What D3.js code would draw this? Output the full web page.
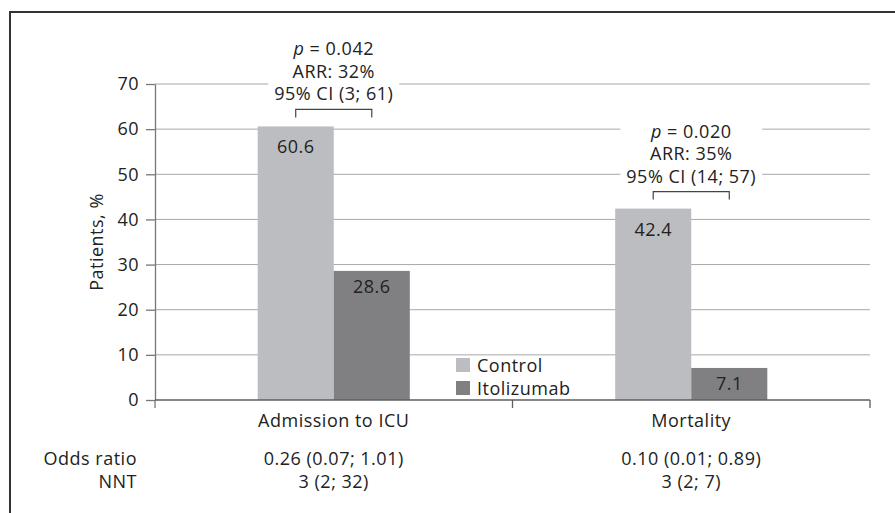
<!DOCTYPE html>
<html>
<head>
<meta charset="utf-8">
<script src="https://cdn.jsdelivr.net/npm/d3@7"></script>
<style>
  body { margin: 0; background: #fff; }
  svg text { font-family: 'Open Sans', sans-serif; fill: #222; letter-spacing: 0.5px; }
</style>
</head>
<body>
<div id="chart"></div>
<script>
// data
const categories = ['Admission to ICU', 'Mortality']
const series = ['Control', 'Itolizumab']
const controlValues = [60.6, 42.4]
const itolizumabValues = [28.6, 7.1]
const pValues = ['0.042', '0.020']
const arrValues = ['32%', '35%']
const ciValues = ['(3; 61)', '(14; 57)']
const oddsRatios = ['0.26 (0.07; 1.01)', '0.10 (0.01; 0.89)']
const nntValues = ['3 (2; 32)', '3 (2; 7)']
const yTicks = [0, 10, 20, 30, 40, 50, 60, 70]

const colors = ['#bcbdc0', '#808083']

const width = 895, height = 513
const margin = {top: 84, right: 25, bottom: 113, left: 155}
const fontSize = 18

const svg = d3.select('#chart').append('svg')
  .attr('width', width)
  .attr('height', height)

// outer frame (left and top only)
svg.append('path')
  .attr('d', `M10,${height} V12 H${width}`)
  .attr('fill', 'none')
  .attr('stroke', '#333')
  .attr('stroke-width', 2)

// scales
const x0 = d3.scaleBand()
  .domain(categories)
  .range([margin.left, width - margin.right])

const x1 = d3.scaleBand()
  .domain(series)
  .range([0, x0.bandwidth()])
  .paddingOuter(1.35)

const y = d3.scaleLinear()
  .domain([0, 70])
  .range([height - margin.bottom, margin.top])

const data = categories.map((c, i) => ({
  category: c,
  values: [controlValues[i], itolizumabValues[i]]
}))

// gridlines
svg.append('g').selectAll('line')
  .data(yTicks.filter(d => d > 0)).enter()
  .append('line')
    .attr('x1', margin.left)
    .attr('x2', width - margin.right)
    .attr('y1', d => y(d))
    .attr('y2', d => y(d))
    .attr('stroke', '#a8a8a8')
    .attr('stroke-width', 1)

// bars
const groups = svg.append('g').selectAll('g')
  .data(data).enter()
  .append('g')
    .attr('transform', d => `translate(${x0(d.category)},0)`)

groups.selectAll('rect')
  .data(d => d.values.map((v, j) => ({series: series[j], value: v, j: j}))).enter()
  .append('rect')
    .attr('x', d => x1(d.series))
    .attr('width', x1.bandwidth())
    .attr('y', d => y(d.value))
    .attr('height', d => y(0) - y(d.value))
    .attr('fill', d => colors[d.j])

// value labels inside the bar tops
groups.selectAll('text.value')
  .data(d => d.values.map((v, j) => ({series: series[j], value: v, j: j}))).enter()
  .append('text')
    .attr('class', 'value')
    .attr('x', d => x1(d.series) + x1.bandwidth() / 2)
    .attr('y', d => y(d.value) + (d.j === 0 ? 27 : 22))
    .attr('text-anchor', 'middle')
    .style('font-size', fontSize + 'px')
    .text(d => d.value.toFixed(1))

// significance annotations
data.forEach((d, i) => {
  const cx1 = x0(d.category) + x1(series[0]) + x1.bandwidth() / 2
  const cx2 = x0(d.category) + x1(series[1]) + x1.bandwidth() / 2
  const mid = (cx1 + cx2) / 2
  const bracketBottom = y(controlValues[i]) - 9
  const bracketTop = bracketBottom - 8
  const ciBase = bracketTop - 9
  const lineH = 22.5

  const g = svg.append('g')
  const box = g.append('rect').attr('fill', '#fff')

  const t1 = g.append('text')
    .attr('x', mid).attr('y', ciBase - 2 * lineH)
    .attr('text-anchor', 'middle')
    .style('font-size', fontSize + 'px')
  t1.append('tspan').style('font-style', 'italic').text('p')
  t1.append('tspan').text(' = ' + pValues[i])

  g.append('text')
    .attr('x', mid).attr('y', ciBase - lineH)
    .attr('text-anchor', 'middle')
    .style('font-size', fontSize + 'px')
    .text('ARR: ' + arrValues[i])

  const t3 = g.append('text')
    .attr('x', mid).attr('y', ciBase)
    .attr('text-anchor', 'middle')
    .style('font-size', fontSize + 'px')
    .text('95% CI ' + ciValues[i])

  const w = t3.node().getComputedTextLength() + 12
  box.attr('x', mid - w / 2)
    .attr('width', w)
    .attr('y', ciBase - 2 * lineH - 16)
    .attr('height', 2 * lineH + 21)

  g.append('path')
    .attr('d', `M${cx1},${bracketBottom} V${bracketTop} H${cx2} V${bracketBottom}`)
    .attr('fill', 'none')
    .attr('stroke', '#444')
    .attr('stroke-width', 1.2)
})

// y axis
const yAxis = svg.append('g')
  .attr('transform', `translate(${margin.left},0)`)
  .call(d3.axisLeft(y).tickValues(yTicks).tickSize(9).tickSizeOuter(0).tickPadding(7))
yAxis.select('.domain').attr('stroke', '#777').attr('stroke-width', 1.3)
yAxis.selectAll('.tick line').attr('stroke', '#777').attr('stroke-width', 1.3)
yAxis.selectAll('.tick text')
  .style('font-family', "'Open Sans', sans-serif")
  .style('font-size', fontSize + 'px')
  .attr('fill', '#222')

// y axis extends down to the category tick below zero
svg.append('line')
  .attr('x1', margin.left).attr('x2', margin.left)
  .attr('y1', y(0)).attr('y2', y(0) + 8)
  .attr('stroke', '#777').attr('stroke-width', 1.3)

// x axis line and category boundary ticks
const xAxis = svg.append('g')
xAxis.append('line')
  .attr('x1', margin.left).attr('x2', width - margin.right)
  .attr('y1', y(0)).attr('y2', y(0))
  .attr('stroke', '#5e5e5e').attr('stroke-width', 1.5)
xAxis.selectAll('line.tick')
  .data(categories.map(c => x0(c) + x0.bandwidth()))
  .enter().append('line')
    .attr('class', 'tick')
    .attr('x1', d => d).attr('x2', d => d)
    .attr('y1', y(0)).attr('y2', y(0) + 8)
    .attr('stroke', '#5e5e5e').attr('stroke-width', 1.3)

// category labels
svg.append('g').selectAll('text')
  .data(categories).enter()
  .append('text')
    .attr('x', d => x0(d) + x0.bandwidth() / 2)
    .attr('y', y(0) + 27)
    .attr('text-anchor', 'middle')
    .style('font-size', fontSize + 'px')
    .text(d => d)

// y axis title
svg.append('text')
  .attr('transform', `translate(103,${(y(0) + y(70)) / 2}) rotate(-90)`)
  .attr('text-anchor', 'middle')
  .style('font-size', fontSize + 'px')
  .text('Patients, %')

// legend
const legend = svg.append('g')
  .attr('transform', 'translate(456,358)')
series.forEach((s, i) => {
  legend.append('rect')
    .attr('x', 0).attr('y', i * 23)
    .attr('width', 14).attr('height', 14)
    .attr('fill', colors[i])
  legend.append('text')
    .attr('x', 21).attr('y', i * 23 + 14)
    .style('font-size', fontSize + 'px')
    .text(s)
})

// table under the chart
const rowLabels = ['Odds ratio', 'NNT']
const rows = [oddsRatios, nntValues]
rowLabels.forEach((lab, r) => {
  const yy = y(0) + 65 + r * 22.5
  svg.append('text')
    .attr('x', 137).attr('y', yy)
    .attr('text-anchor', 'end')
    .style('font-size', fontSize + 'px')
    .text(lab)
  svg.append('g').selectAll('text')
    .data(categories).enter()
    .append('text')
      .attr('x', d => x0(d) + x0.bandwidth() / 2)
      .attr('y', yy)
      .attr('text-anchor', 'middle')
      .style('font-size', fontSize + 'px')
      .text((d, i) => rows[r][i])
})
</script>
</body>
</html>
